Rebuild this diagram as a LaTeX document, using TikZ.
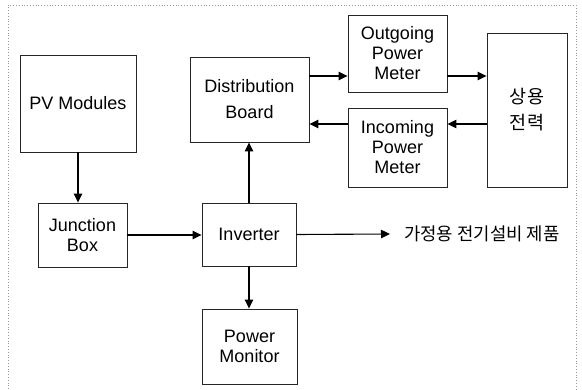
\documentclass[tikz,border=0pt]{standalone}
\usepackage{fontspec}
\setmainfont{Liberation Sans}
\newfontfamily\kr{Noto Sans CJK KR}
\usetikzlibrary{arrows.meta}
\tikzset{
  blk/.style={draw=black!85, line width=0.9pt, inner sep=0pt, align=center, font=\fontsize{18}{20}\selectfont},
  con/.style={line width=1.1pt, -{Triangle[length=9pt,width=8.5pt]}},
}
\begin{document}
\begin{tikzpicture}[x=1pt,y=-1pt]
\useasboundingbox (0,0) rectangle (582,389);
\draw[black!40, dotted, line width=0.8pt] (8,389) -- (8,5) -- (576,5) -- (576,389);
\node[blk, minimum width=116pt, minimum height=97pt] (PV) at (78,103.5) {PV Modules};
\node[blk, minimum width=119pt, minimum height=85pt, font=\fontsize{18}{26}\selectfont] (DB) at (249.5,99.5) {Distribution\\Board};
\node[blk, minimum width=99pt, minimum height=77pt] (OPM) at (397.5,53.5) {Outgoing\\Power\\Meter};
\node[blk, minimum width=99pt, minimum height=79pt] (IPM) at (397.5,147.5) {Incoming\\Power\\Meter};
\node[blk, minimum width=80pt, minimum height=154pt, font=\kr\fontsize{18.5}{26}\selectfont] (SY) at (527,110) {상용\\전력};
\node[blk, minimum width=89pt, minimum height=64pt] (JB) at (82.5,235) {Junction\\Box};
\node[blk, minimum width=94pt, minimum height=63pt] (INV) at (249,234.5) {Inverter};
\node[blk, minimum width=95pt, minimum height=75pt] (PM) at (249.5,346.5) {Power\\Monitor};
\node[inner sep=0pt, anchor=west, font=\kr\fontsize{17.8}{20}\selectfont] (TXT) at (404,234) {가정용 전기설비 제품};
\draw[con] (PV.south) -- (PV.south |- JB.north);
\draw[con] (JB.east) -- (JB.east -| INV.west);
\draw[con] (INV.north) -- (INV.north |- DB.south);
\draw[con] (INV.south) -- (INV.south |- PM.north);
\draw[con] (INV.east) -- ([xshift=-14pt]TXT.west);
\draw[con] ([yshift=23.5pt]DB.east) -- ([yshift=23.5pt]DB.east -| OPM.west);
\draw[con] ([yshift=-22.5pt]OPM.east) -- ([yshift=-22.5pt]OPM.east -| SY.west);
\draw[con] ([yshift=23.5pt]IPM.east -| SY.west) -- ([yshift=23.5pt]IPM.east);
\draw[con] ([yshift=23.5pt]IPM.west) -- ([yshift=23.5pt]IPM.west -| DB.east);
\end{tikzpicture}
\end{document}
